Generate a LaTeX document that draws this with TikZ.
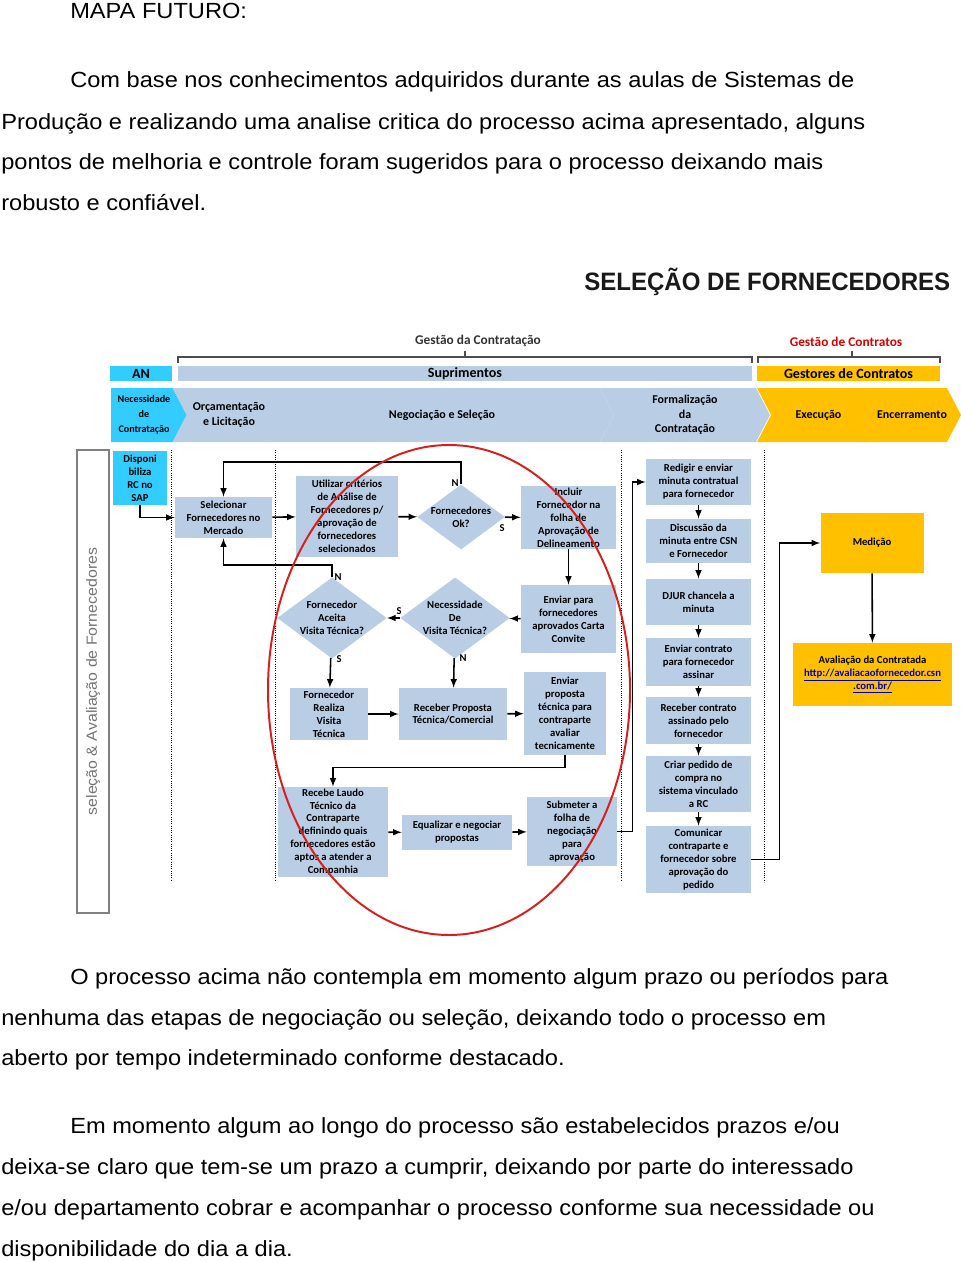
\documentclass[tikz,border=0pt]{standalone}
\usepackage{fontspec}
\setmainfont[FakeStretch=1.077]{Liberation Sans}
\newfontfamily\diagfont{Carlito}
\newfontfamily\titlefont[FakeStretch=0.955]{Liberation Sans}
\usetikzlibrary{shapes.geometric, shapes.symbols, arrows}
\definecolor{boxblue}{HTML}{B9CDE5}
\definecolor{ancyan}{HTML}{33CCFF}
\definecolor{gold}{HTML}{FFC000}
\definecolor{ringred}{HTML}{D81E1E}

\begin{document}
\begin{tikzpicture}[x=0.025cm, y=-0.025cm, >=latex,
  sz/.style 2 args={minimum width=#1*0.025cm, minimum height=#2*0.025cm},
  para/.style={anchor=base west, inner sep=0pt, font=\fontsize{15.6}{18}\selectfont},
  proc/.style={rectangle, fill=boxblue, inner sep=0pt, align=center, font=\diagfont\bfseries\fontsize{7.6}{9.2}\selectfont},
  dec/.style={diamond, fill=boxblue, inner sep=0pt, align=center, shape aspect=1.35, font=\diagfont\bfseries\fontsize{7.6}{9.2}\selectfont},
  chev/.style={signal, signal to=east, signal from=west, signal pointer angle=125, fill=boxblue, inner sep=0pt, align=center, minimum height=54*0.025cm, font=\diagfont\bfseries\fontsize{8.5}{10.5}\selectfont},
  bar/.style={rectangle, inner sep=0pt, minimum height=15*0.025cm, font=\diagfont\bfseries\fontsize{10}{12}\selectfont},
  yn/.style={inner sep=0pt, font=\diagfont\bfseries\fontsize{7.5}{9}\selectfont},
  flow/.style={draw, line width=1.1pt, ->},
  lane/.style={draw, densely dotted, line width=0.6pt}]
\useasboundingbox (0,0) rectangle (960,1262);

% texto de cima
\node[para] (t0) at (70,19) {MAPA FUTURO:};
\node[para] (t1) at (70,88) {Com base nos conhecimentos adquiridos durante as aulas de Sistemas de};
\node[para] (t2) at (1,129) {Produção e realizando uma analise critica do processo acima apresentado, alguns};
\node[para] (t3) at (1,169.5) {pontos de melhoria e controle foram sugeridos para o processo deixando mais};
\node[para] (t4) at (1,210) {robusto e confiável.};

% titulo e cabecalho
\node[anchor=base west, inner sep=0pt, text=black!90, font=\titlefont\bfseries\fontsize{17.9}{20}\selectfont] (title) at (584,290) {SELEÇÃO DE FORNECEDORES};
\node[font=\diagfont\bfseries\fontsize{9.5}{11}\selectfont, text=black!80] (gcont) at (478,341) {Gestão da Contratação};
\node[font=\diagfont\bfseries\fontsize{9.5}{11}\selectfont, text=red!85!black] (gctr) at (846,342) {Gestão de Contratos};
\draw[black!70, line width=0.8pt] (178,363) -- (178,357) -- (752,357) -- (752,363) (465,357) -- (465,351)
  (758,363) -- (758,357) -- (940,357) -- (940,363) (852,357) -- (852,351);
\node[bar, fill=ancyan, sz={62}{15}] (an) at (141,373.5) {AN};
\node[bar, fill=boxblue, sz={574}{15}] (supr) at (465,373.5) {Suprimentos};
\node[bar, fill=gold, sz={183}{15}] (gest) at (848.5,373.5) {Gestores de Contratos};

% etapas
\node[chev, fill=ancyan, signal from=nowhere, sz={80}{54}, font=\diagfont\bfseries\fontsize{7.2}{10.5}\selectfont] (nec) at (144,415) {Necessidade\\de\\Contratação};
\node[chev, sz={113}{54}] (orc) at (229,415) {Orçamentação\\e Licitação};
\node[chev, sz={344}{54}] (neg) at (442,415) {Negociação e Seleção};
\node[chev, sz={170}{54}] (form) at (685,415) {Formalização\\da\\Contratação};
\node[chev, fill=gold, sz={123}{54}] (exe) at (818.5,415) {Execução};
\node[chev, fill=gold, sz={93}{54}] (enc) at (912,415) {Encerramento};

% raias
\node[draw=black!50, line width=1pt, rotate=90, sz={463}{32}, text=black!55, font=\fontsize{10.5}{12}\selectfont] (raia) at (93,681.5) {seleção \& Avaliação de Fornecedores};
\draw[lane] (171,450) -- (171,880) (275,450) -- (275,880) (621,450) -- (621,880) (764,450) -- (764,882);

% caixas
\node[proc, fill=ancyan, sz={54}{54}] (disp) at (140,478) {Disponi\\biliza\\RC no\\SAP};
\node[proc, sz={97}{41}] (sel) at (223.5,517.5) {Selecionar\\Fornecedores no\\Mercado};
\node[proc, sz={102}{81}] (util) at (347,516.5) {Utilizar critérios\\de Análise de\\Fornecedores p/\\aprovação de\\fornecedores\\selecionados};
\node[dec, sz={80}{60}] (okq) at (461,517) {Fornecedores\\Ok?};
\node[proc, sz={95}{63}] (incl) at (568.5,517.5) {Incluir\\Fornecedor na\\folha de\\Aprovação de\\Delineamento};
\node[proc, sz={95}{68}] (envc) at (568.5,619) {Enviar para\\fornecedores\\aprovados Carta\\Convite};
\node[dec, sz={102}{73}] (nvis) at (455,618) {Necessidade\\De\\Visita Técnica?};
\node[dec, sz={102}{73}] (acei) at (332,618) {Fornecedor\\Aceita\\Visita Técnica?};
\node[proc, sz={78}{52}] (real) at (329,714) {Fornecedor\\Realiza\\Visita\\Técnica};
\node[proc, sz={108}{52}] (recp) at (453,714) {Receber Proposta\\Técnica/Comercial};
\node[proc, sz={82}{83}] (envp) at (565,713.5) {Enviar\\proposta\\técnica para\\contraparte\\avaliar\\tecnicamente};
\node[proc, sz={110}{90}] (laudo) at (333,832) {Recebe Laudo\\Técnico da\\Contraparte\\definindo quais\\fornecedores estão\\aptos a atender a\\Companhia};
\node[proc, sz={110}{35}] (equa) at (457,832.5) {Equalizar e negociar\\propostas};
\node[proc, sz={90}{69}] (subm) at (572,831.5) {Submeter a\\folha de\\negociação\\para\\aprovação};

\node[proc, sz={105}{46}] (redg) at (698.5,482) {Redigir e enviar\\minuta contratual\\para fornecedor};
\node[proc, sz={105}{44}] (disc) at (698.5,541) {Discussão da\\minuta entre CSN\\e Fornecedor};
\node[proc, sz={105}{46}] (djur) at (698.5,602) {DJUR chancela a\\minuta};
\node[proc, sz={105}{48}] (envk) at (698.5,662) {Enviar contrato\\para fornecedor\\assinar};
\node[proc, sz={105}{47}] (rece) at (698.5,720.5) {Receber contrato\\assinado pelo\\fornecedor};
\node[proc, sz={105}{56}] (cria) at (698.5,784) {Criar pedido de\\compra no\\sistema vinculado\\a RC};
\node[proc, sz={105}{67}] (comu) at (698.5,859.5) {Comunicar\\contraparte e\\fornecedor sobre\\aprovação do\\pedido};

\node[proc, fill=gold, sz={103}{60}] (med) at (872,543) {Medição};
\node[proc, fill=gold, sz={159}{63}] (aval) at (872.5,674.5) {Avaliação da Contratada\\\textcolor{blue!70!black}{\underline{http://avaliacaofornecedor.csn}}\\\textcolor{blue!70!black}{\underline{.com.br/}}};

% ligacoes
\draw[flow] (disp.south) |- (sel.west);
\draw[flow] (sel) -- (util);
\draw[flow] (util) -- (okq);
\draw[flow] (okq) -- (incl);
\draw[flow] (okq.north) -- ++(0,-22) -| (sel.north);
\draw[flow] (incl) -- (envc);
\draw[flow] (envc) -- (nvis);
\draw[flow] (nvis) -- (acei);
\draw[flow] (acei.north) -- ++(0,-12) -| (sel.south);
\draw[flow] (acei) -- (real);
\draw[flow] (nvis) -- (recp);
\draw[flow] (real) -- (recp);
\draw[flow] (recp) -- (envp);
\draw[flow] (envp.south) -- ++(0,12) -| (laudo.north);
\draw[flow] (laudo) -- (equa);
\draw[flow] (equa) -- (subm);
\draw[flow] (subm.east) -- ++(15,0) |- (redg.west);
\draw[flow] (redg) -- (disc);
\draw[flow] (disc) -- (djur);
\draw[flow] (djur) -- (envk);
\draw[flow] (envk) -- (rece);
\draw[flow] (rece) -- (cria);
\draw[flow] (cria) -- (comu);
\draw[flow] (comu.east) -- ++(28,0) |- (med.west);
\draw[flow] (med) -- (aval);
\node[yn] (n1) at (455,483) {N};
\node[yn] (s1) at (502,528) {S};
\node[yn] (s2) at (399,611) {S};
\node[yn] (n2) at (338,577) {N};
\node[yn] (s3) at (339,659) {S};
\node[yn] (n3) at (463,658) {N};

% destaque
\draw[ringred, line width=1.4pt] (449,690) ellipse [x radius=181*0.025cm, y radius=245*0.025cm];

% texto de baixo
\node[para] (t5) at (70,984) {O processo acima não contempla em momento algum prazo ou períodos para};
\node[para] (t6) at (1,1025) {nenhuma das etapas de negociação ou seleção, deixando todo o processo em};
\node[para] (t7) at (1,1065) {aberto por tempo indeterminado conforme destacado.};
\node[para] (t8) at (70,1133) {Em momento algum ao longo do processo são estabelecidos prazos e/ou};
\node[para] (t9) at (1,1174) {deixa-se claro que tem-se um prazo a cumprir, deixando por parte do interessado};
\node[para] (t10) at (1,1215) {e/ou departamento cobrar e acompanhar o processo conforme sua necessidade ou};
\node[para] (t11) at (1,1256) {disponibilidade do dia a dia.};
\end{tikzpicture}
\end{document}
